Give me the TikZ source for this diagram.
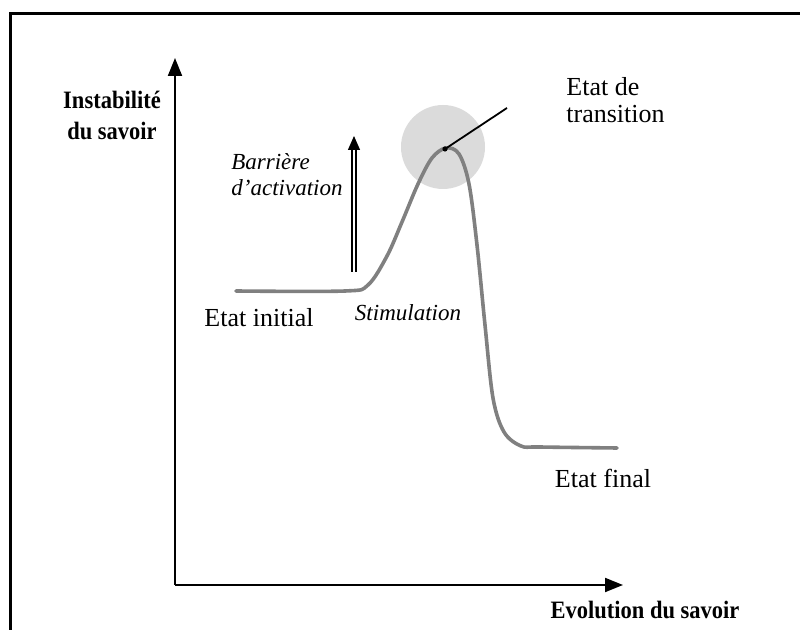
\documentclass[tikz,border=0pt]{standalone}
\usepackage{fontspec}
\setmainfont{Liberation Serif}
\usetikzlibrary{arrows.meta}

\begin{document}
\begin{tikzpicture}[x=0.5pt,y=-0.5pt,
  axis/.style={line width=1pt,-{Triangle[length=9pt,width=7pt]}},
  curve/.style={line width=1.8pt,black!50,line cap=round},
  txt/.style={font=\fontsize{13}{13.5}\selectfont,align=left,inner sep=0pt},
  slant/.style={font=\fontsize{11.5}{13}\selectfont\itshape,align=left,inner sep=0pt},
  bold/.style={font=\fontsize{12.5}{15.5}\selectfont\bfseries\addfontfeature{FakeStretch=0.9},
    align=center,inner sep=0pt}]
  \useasboundingbox (0,0) rectangle (800,630);

  % Frame (only top and left edges are visible)
  \draw[line width=1.5pt] (10,630) -- (10,14) -- (800,14);

  % Axes
  \coordinate (O) at (175,585);
  \coordinate (ytip) at (175,58);
  \coordinate (xtip) at (623,585);
  \draw[axis] (O) -- (ytip);
  \draw[axis] (O) -- (xtip);
  \node[bold] (instab) at (112,115) {Instabilité\\du savoir};
  \node[bold] (evol) at (645,610) {Evolution du savoir};

  % Transition zone
  \def\r{42}
  \fill[gray!28] (443,147) circle (\r);

  % Knowledge curve
  \draw[curve] plot[smooth,tension=0.55] coordinates {
    (236,291) (345,291) (368,285) (387,256) (402,222) (418,184) (432,158)
    (446,148) (459,154) (469,184) (477,245) (485,325) (493,398) (504,432)
    (521,446) (540,447) (617,448)};

  % Transition state marker
  \coordinate (peak) at (445,149);
  \coordinate (ptr) at (507,108);
  \fill (peak) circle (2.6);
  \draw[line width=0.9pt] (peak) -- (ptr);
  \node[txt,anchor=west] (trans) at (566,100) {Etat de\\transition};

  % Activation barrier
  \coordinate (bbot) at (354,272);
  \coordinate (btop) at (354,136);
  \draw[double,double distance=1.4pt,line width=0.6pt,
    -{Triangle[length=7pt,width=6pt]}] (bbot) -- (btop);
  \node[slant,anchor=west] (barr) at (231,175) {Barrière\\d’activation};

  % State labels
  \node[txt] (init) at (259,318) {Etat initial};
  \node[slant] (stim) at (408,313) {Stimulation};
  \node[txt] (final) at (603,478) {Etat final};

\end{tikzpicture}
\end{document}
